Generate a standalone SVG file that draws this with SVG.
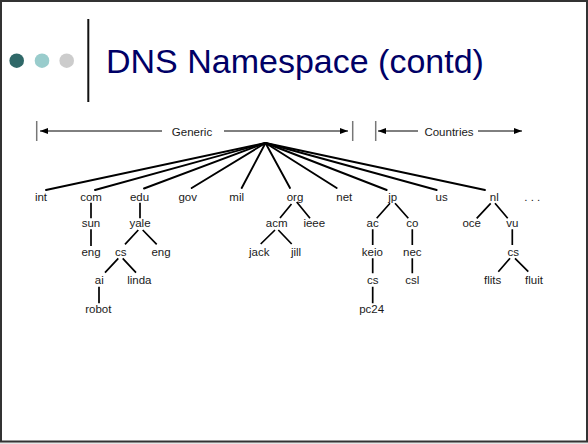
<svg xmlns="http://www.w3.org/2000/svg" width="588" height="444" viewBox="0 0 588 444">
<style>
.lbl{font-family:"Liberation Sans",Arial,Helvetica,sans-serif;font-size:11.5px;fill:#1a1a1a;text-anchor:middle}
.fan line{stroke:#000;stroke-width:1.9;stroke-linecap:round}
.edge{stroke:#000;stroke-width:1.7;fill:none}
.dim{stroke:#000;stroke-width:1}
.tick{stroke:#777;stroke-width:1.5}
</style>
<defs>
<marker id="ah" viewBox="0 0 8 6" refX="8" refY="3" markerWidth="8" markerHeight="6" markerUnits="userSpaceOnUse" orient="auto">
<path d="M0,0 L8,3 L0,6 Z" fill="#000"/>
</marker>
</defs>
<rect x="0" y="0" width="588" height="444" fill="#e6e6e6"/>
<rect x="1" y="1" width="586" height="440.5" fill="#fff" stroke="#333" stroke-width="2"/>
<g id="title">
<circle cx="16.7" cy="60.7" r="7.3" fill="#2f6868"/>
<circle cx="42" cy="60.7" r="7.3" fill="#99cccc"/>
<circle cx="66.7" cy="60.7" r="7.3" fill="#cccccc"/>
<line x1="88.3" y1="19" x2="88.3" y2="102" stroke="#111" stroke-width="2"/>
<text x="106" y="73.3" font-family="'Liberation Sans',Arial,sans-serif" font-size="34" fill="#000066">DNS Namespace (contd)</text>
</g>
<g id="ranges">
<line class="tick" x1="36.7" y1="121" x2="36.7" y2="141"/>
<line class="tick" x1="352.7" y1="121" x2="352.7" y2="141"/>
<line class="tick" x1="375.7" y1="121" x2="375.7" y2="141"/>
<line class="dim" x1="162" y1="131" x2="40" y2="131" marker-end="url(#ah)"/>
<line class="dim" x1="224" y1="131" x2="348" y2="131" marker-end="url(#ah)"/>
<line class="dim" x1="418" y1="131" x2="378" y2="131" marker-end="url(#ah)"/>
<line class="dim" x1="478" y1="131" x2="522" y2="131" marker-end="url(#ah)"/>
<text class="lbl" x="192" y="135.5">Generic</text>
<text class="lbl" x="449" y="135.5">Countries</text>
</g>
<g id="connectors">
<g class="fan">
<line x1="265.5" y1="143" x2="46" y2="190"/>
<line x1="265.5" y1="143" x2="95" y2="190"/>
<line x1="265.5" y1="143" x2="144" y2="188.5"/>
<line x1="265.5" y1="143" x2="191.7" y2="188"/>
<line x1="265.5" y1="143" x2="241.7" y2="188"/>
<line x1="265.5" y1="143" x2="290" y2="188"/>
<line x1="265.5" y1="143" x2="336.7" y2="188"/>
<line x1="265.5" y1="143" x2="386.7" y2="190"/>
<line x1="265.5" y1="143" x2="436.7" y2="190"/>
<line x1="265.5" y1="143" x2="485" y2="190"/>
</g>
<path class="edge" d="M91,202.7V218.3 M91,229.3V246 M140,202.7V218.3 M138.3,230L125,244.3 M142.7,230L156.7,244.3 M118.3,258.3L105,272.7 M122.7,258.3L136,272.7 M99,286.7V303.3"/>
<path class="edge" d="M291.5,204L280,218 M296.7,202L310,218.3 M275,230L260.7,244 M278.3,230L291.7,244"/>
<path class="edge" d="M390,203.3L376.7,218.3 M395,203.3L408.3,218.3 M372.7,229.3V245 M372.7,258.3V273.3 M372.7,286.7V303.3 M412.3,229.3V245 M412.3,258.3V273.3"/>
<path class="edge" d="M490.7,203.3L476.7,218.3 M495,203.3L507.7,218.3 M512.3,229.3V245 M510,258.3L498.3,271.7 M515,258.3L528.3,271.7"/>
</g>
<g id="n-int"><text class="lbl" x="41" y="201">int</text></g>
<g id="n-com"><text class="lbl" x="91" y="201">com</text></g>
<g id="n-edu"><text class="lbl" x="139.5" y="201">edu</text></g>
<g id="n-gov"><text class="lbl" x="187.7" y="201">gov</text></g>
<g id="n-mil"><text class="lbl" x="236.7" y="201">mil</text></g>
<g id="n-org"><text class="lbl" x="295" y="201">org</text></g>
<g id="n-net"><text class="lbl" x="344.3" y="201">net</text></g>
<g id="n-jp"><text class="lbl" x="392.7" y="201">jp</text></g>
<g id="n-us"><text class="lbl" x="441.7" y="201">us</text></g>
<g id="n-nl"><text class="lbl" x="494.3" y="201">nl</text></g>
<g id="n-more"><text class="lbl" x="532.3" y="201">. . .</text></g>
<g id="n-sun"><text class="lbl" x="91" y="227.3">sun</text></g>
<g id="n-yale"><text class="lbl" x="140" y="227.3">yale</text></g>
<g id="n-acm"><text class="lbl" x="276.7" y="227.3">acm</text></g>
<g id="n-ieee"><text class="lbl" x="314.3" y="227.3">ieee</text></g>
<g id="n-ac"><text class="lbl" x="372.7" y="227.3">ac</text></g>
<g id="n-co"><text class="lbl" x="412.3" y="227.3">co</text></g>
<g id="n-oce"><text class="lbl" x="471.7" y="227.3">oce</text></g>
<g id="n-vu"><text class="lbl" x="512.3" y="227.3">vu</text></g>
<g id="n-sun-eng"><text class="lbl" x="91" y="255.7">eng</text></g>
<g id="n-yale-cs"><text class="lbl" x="120.7" y="255.7">cs</text></g>
<g id="n-yale-eng"><text class="lbl" x="161" y="255.7">eng</text></g>
<g id="n-jack"><text class="lbl" x="259.3" y="255.7">jack</text></g>
<g id="n-jill"><text class="lbl" x="296" y="255.7">jill</text></g>
<g id="n-keio"><text class="lbl" x="372.3" y="255.7">keio</text></g>
<g id="n-nec"><text class="lbl" x="412.3" y="255.7">nec</text></g>
<g id="n-vu-cs"><text class="lbl" x="513.3" y="255.7">cs</text></g>
<g id="n-ai"><text class="lbl" x="99.3" y="284">ai</text></g>
<g id="n-linda"><text class="lbl" x="139.3" y="284">linda</text></g>
<g id="n-keio-cs"><text class="lbl" x="372.7" y="284">cs</text></g>
<g id="n-csl"><text class="lbl" x="412.3" y="284">csl</text></g>
<g id="n-flits"><text class="lbl" x="492.7" y="284">flits</text></g>
<g id="n-fluit"><text class="lbl" x="534" y="284">fluit</text></g>
<g id="n-robot"><text class="lbl" x="98.3" y="313">robot</text></g>
<g id="n-pc24"><text class="lbl" x="371.7" y="313">pc24</text></g>
</svg>
